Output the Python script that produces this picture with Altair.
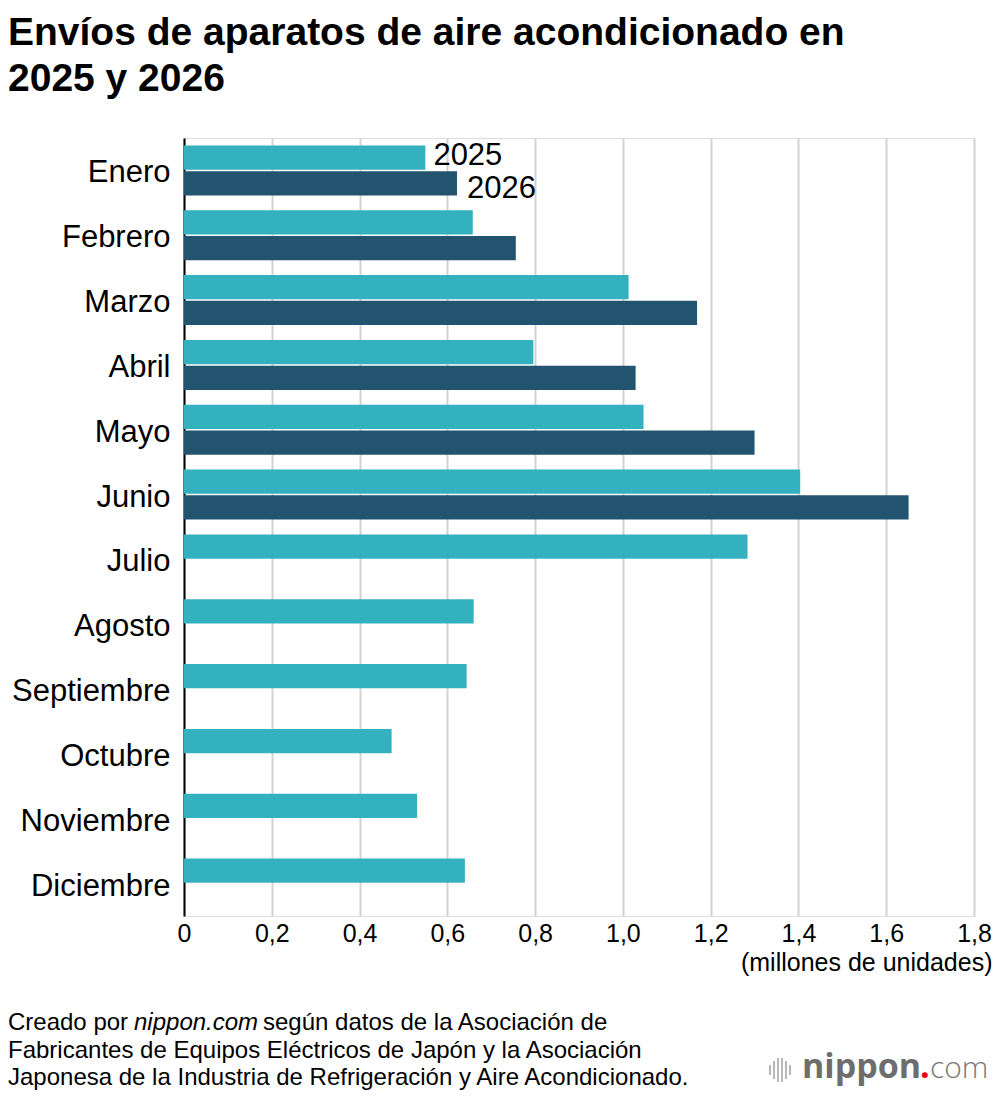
import altair as alt
import pandas as pd

months = ["Enero", "Febrero", "Marzo", "Abril", "Mayo", "Junio", "Julio",
          "Agosto", "Septiembre", "Octubre", "Noviembre", "Diciembre"]
v2025 = [0.55, 0.658, 1.013, 0.796, 1.047, 1.404, 1.284, 0.660, 0.644, 0.473, 0.531, 0.640]
v2026 = [0.622, 0.756, 1.169, 1.029, 1.300, 1.651]
years = ["2025", "2026"]
ticks = [0, 0.2, 0.4, 0.6, 0.8, 1.0, 1.2, 1.4, 1.6, 1.8]

rows = []
for i, m in enumerate(months):
    rows.append({"mes": m, "año": "2025", "valor": v2025[i]})
    if i < len(v2026):
        rows.append({"mes": m, "año": "2026", "valor": v2026[i]})
df = pd.DataFrame(rows)

FONT = "Liberation Sans"
W, H = 790, 778
TOP = 138  # page y of plot top
LEFT = 184  # page x of plot left

x_enc = alt.X("valor:Q", scale=alt.Scale(domain=[0, 1.8], nice=False),
              axis=alt.Axis(values=ticks, title="(millones de unidades)",
                            labelExpr="datum.value == 0 ? '0' : replace(format(datum.value, '.1f'), '.', ',')",
                            labelFont=FONT, labelFontSize=25, labelColor="#000",
                            labelPadding=5, labelFlush=False, ticks=False, domain=False,
                            grid=True, gridColor="#d2d2d2", gridWidth=2,
                            titleFont=FONT, titleFontSize=25, titleFontWeight="normal",
                            titleColor="#000", titleAnchor="end", titleAlign="right",
                            titleX=W + 18, titleY=54, titleBaseline="alphabetic"))
y_enc = alt.Y("mes:N", sort=months,
              scale=alt.Scale(domain=months, paddingInner=0.228, paddingOuter=0.114),
              axis=alt.Axis(title=None, labelFont=FONT, labelFontSize=31, labelColor="#000",
                            labelPadding=14, labelOffset=3, ticks=False, domain=True,
                            domainColor="#000", domainWidth=2, grid=False))
yo_enc = alt.YOffset("año:N", scale=alt.Scale(domain=years, paddingInner=0.06))

bars = alt.Chart(df).mark_bar().encode(
    x=x_enc, y=y_enc, yOffset=yo_enc,
    color=alt.Color("año:N", scale=alt.Scale(domain=years, range=["#34b1bf", "#23546f"]), legend=None),
)

lab25 = alt.Chart(df).transform_filter("datum.mes == 'Enero' && datum['año'] == '2025'").mark_text(
    align="left", baseline="middle", dx=8, dy=-2, font=FONT, fontSize=31, color="#000"
).encode(x="valor:Q", y=alt.Y("mes:N", sort=months), yOffset="año:N", text="año:N")
lab26 = alt.Chart(df).transform_filter("datum.mes == 'Enero' && datum['año'] == '2026'").mark_text(
    align="left", baseline="middle", dx=10, dy=6, font=FONT, fontSize=31, color="#000"
).encode(x="valor:Q", y=alt.Y("mes:N", sort=months), yOffset="año:N", text="año:N")

footer_lines = [
    ["Creado por ", "nippon.com", "según datos de la Asociación de"],
    ["Fabricantes de Equipos Eléctricos de Japón y la Asociación"],
    ["Japonesa de la Industria de Refrigeración y Aire Acondicionado."],
]
FX = 8 - LEFT
FS = 24
fy = [1030 - TOP, 1058 - TOP, 1085 - TOP]
layers = [bars, lab25, lab26]


def ftext(t, x, y, **kw):
    return alt.Chart(pd.DataFrame({"t": [t]})).mark_text(
        align="left", baseline="alphabetic", font=FONT, fontSize=FS, color="#000", **kw).encode(
        x=alt.value(x), y=alt.value(y), text="t:N")


layers.append(ftext(footer_lines[0][0], FX, fy[0]))
layers.append(ftext(footer_lines[0][1], FX + 126, fy[0], fontStyle="italic"))
layers.append(ftext(footer_lines[0][2], FX + 255, fy[0]))
layers.append(ftext(footer_lines[1][0], FX, fy[1]))
layers.append(ftext(footer_lines[2][0], FX, fy[2]))

# nippon.com logo
logo_y = 1078 - TOP
lx = 802 - LEFT
layers.append(alt.Chart(pd.DataFrame({"t": ["nippon"]})).mark_text(
    align="left", baseline="alphabetic", font="Open Sans", fontSize=34, fontWeight="bold", color="#6d6d6d").encode(
    x=alt.value(lx), y=alt.value(logo_y), text="t:N"))
layers.append(alt.Chart(pd.DataFrame({"t": ["."]})).mark_text(
    align="left", baseline="alphabetic", font="Open Sans", fontSize=34, fontWeight="bold", color="#e60012").encode(
    x=alt.value(lx + 118), y=alt.value(logo_y), text="t:N"))
layers.append(alt.Chart(pd.DataFrame({"t": ["com"]})).mark_text(
    align="left", baseline="alphabetic", font="Open Sans", fontSize=30, fontWeight=300, color="#777777").encode(
    x=alt.value(lx + 128), y=alt.value(logo_y), text="t:N"))
icon_x = [770, 774, 778, 782, 786, 790]
icon_h = [10, 18, 24, 24, 18, 10]
for xi, hi in zip(icon_x, icon_h):
    cy = 1070 - TOP
    layers.append(alt.Chart(pd.DataFrame({"a": [0]})).mark_rule(color="#b8b8b8", strokeWidth=2).encode(
        x=alt.value(xi - LEFT), y=alt.value(cy - hi / 2), y2=alt.value(cy + hi / 2)))

chart = alt.layer(*layers).properties(
    width=W, height=H,
    title=alt.TitleParams(
        ["Envíos de aparatos de aire acondicionado en", "2025 y 2026"],
        anchor="start", frame="group", dx=-(LEFT - 8), offset=8,
        font=FONT, fontSize=39, fontWeight="bold", color="#000",
        lineHeight=46, baseline="alphabetic"),
    autosize=alt.AutoSizeParams(type="none"),
    padding={"left": LEFT - 8, "top": TOP - 8, "right": 992 - LEFT - W, "bottom": 1090 - TOP - H},
).configure_view(stroke=None).configure(background="white")

chart.save("out.html", embed_options={"renderer": "svg", "actions": False})
